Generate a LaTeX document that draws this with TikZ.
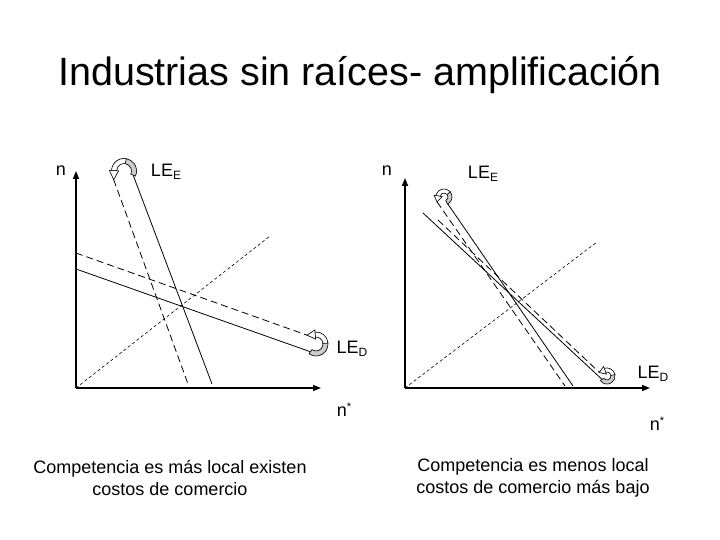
\documentclass[tikz,border=0pt]{standalone}
\usepackage{fontspec}
\setmainfont{Liberation Sans}
\usetikzlibrary{arrows.meta,calc}
\newcommand{\rotarr}[9]{%
  \filldraw[fill=gray!40, line width=0.5pt] ($(#1)+(#4:#2+#3)$) arc[start angle=#4, end angle=#5, radius=#2+#3] -- ($(#1)+(#5:#2-#3)$) arc[start angle=#5, end angle=#4, radius=#2-#3] -- cycle;
  \filldraw[fill=white, line width=0.5pt] ($(#1)+(#5:#2+#3)$) arc[start angle=#5, end angle=#6, radius=#2+#3] -- ($(#1)+(#6:#2-#3)$) arc[start angle=#6, end angle=#5, radius=#2-#3] -- cycle;
  \coordinate (#9-s) at ($(#1)+(#4:#2)$);
  \coordinate (#9-t) at ($(#1)+(#6:#2)+(#6#7:#8)$);
  \filldraw[fill=white, line width=0.5pt] ($(#1)+(#6:#2+#3+2)$) -- (#9-t) -- ($(#1)+(#6:#2-#3-2)$) -- cycle;
}
\newcommand{\lsub}[1]{\raisebox{-3pt}{\fontsize{12}{12}\selectfont #1}}
\newcommand{\lsup}[1]{\raisebox{6pt}{\fontsize{11}{11}\selectfont #1}}
\begin{document}
\begin{tikzpicture}[x=1pt,y=-1pt,
  ax/.style={line width=1.6pt, -{Triangle[length=8pt,width=6pt]}},
  sol/.style={line width=0.8pt},
  dsh/.style={line width=0.8pt, dash pattern=on 7pt off 4pt},
  diag/.style={line width=0.6pt, dash pattern=on 3pt off 2.5pt},
  lbl/.style={font=\fontsize{18}{21}\selectfont, inner sep=0pt},
  captxt/.style={font=\fontsize{18}{22.5}\selectfont, align=center, inner sep=0pt}]
\useasboundingbox (0,0) rectangle (720,540);

% title
\node[inner sep=0pt, anchor=base, font=\fontsize{39.5}{45}\selectfont] (title) at (360,86) {Industrias sin raíces- amplificación};

% ---------- left panel ----------
\coordinate (O1) at (76,388);
\coordinate (Y1) at (76,171);
\coordinate (X1) at (321,388);
\coordinate (G1) at (270,236);
\coordinate (c1) at (124,171);
\coordinate (c2) at (316,344);
\coordinate (E1d) at (188,384);
\coordinate (E1s) at (212,384);
\coordinate (D1d) at (76,253);
\coordinate (D1s) at (76,269);

\draw[diag] (O1) -- (G1);
\rotarr{c1}{10}{2.5}{24}{-80}{-178}{-90}{9}{A1}
\rotarr{c2}{9.5}{2.5}{125}{-5}{-95}{-90}{8}{A2}
\draw[dsh] (A1-t) -- (E1d);
\draw[sol] (A1-s) -- (E1s);
\draw[dsh] (D1d) -- (A2-t);
\draw[sol] (D1s) -- (A2-s);
\rotarr{c1}{10}{2.5}{24}{-80}{-178}{-90}{9}{A1}
\rotarr{c2}{9.5}{2.5}{125}{-5}{-95}{-90}{8}{A2}
\draw[ax] (O1) -- (Y1);
\draw[ax] (O1) -- (X1);

\node[lbl] (n1) at (61,171) {n};
\node[lbl] (le1) at (166,172) {LE\lsub{E}};
\node[lbl] (ld1) at (352,349) {LE\lsub{D}};
\node[lbl] (ns1) at (344,410) {n\lsup{*}};
\node[captxt] (t1) at (170,478) {Competencia es más local existen\\costos de comercio};

% ---------- right panel ----------
\coordinate (O2) at (405,388);
\coordinate (Y2) at (405,178);
\coordinate (X2) at (650,388);
\coordinate (G2) at (597,242);
\coordinate (c3) at (444,197);
\coordinate (c4) at (607,376);
\coordinate (Bs) at (573,386);
\coordinate (Cd) at (565,386);
\coordinate (As) at (423,213);
\coordinate (Dd) at (438,220);

\draw[diag] (O2) -- (G2);
\rotarr{c3}{6}{2}{63}{-40}{-170}{-90}{6}{A3}
\rotarr{c4}{6}{2}{145}{-10}{-110}{-90}{6}{A4}
\draw[sol] (A3-s) -- (Bs);
\draw[dsh] (A3-t) -- (Cd);
\draw[sol] (As) -- (A4-s);
\draw[dsh] (Dd) -- (A4-t);
\rotarr{c3}{6}{2}{63}{-40}{-170}{-90}{6}{A3}
\rotarr{c4}{6}{2}{145}{-10}{-110}{-90}{6}{A4}
\draw[ax] (O2) -- (Y2);
\draw[ax] (O2) -- (X2);

\node[lbl] (n2) at (387,171) {n};
\node[lbl] (le2) at (483,174) {LE\lsub{E}};
\node[lbl] (ld2) at (653,374) {LE\lsub{D}};
\node[lbl] (ns2) at (657,424) {n\lsup{*}};
\node[captxt] (t2) at (533,478) {Competencia es menos local\\costos de comercio más bajo};
\end{tikzpicture}
\end{document}
